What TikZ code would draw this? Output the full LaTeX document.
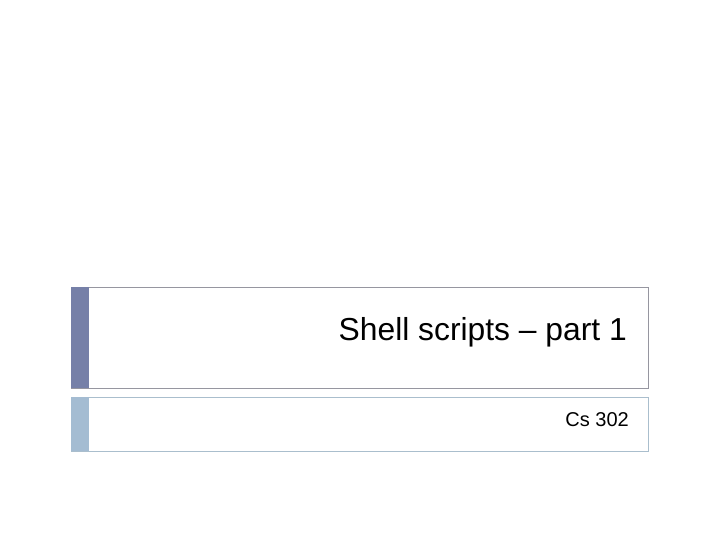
\documentclass[tikz,border=0pt]{standalone}
\usepackage{fontspec}
\setmainfont{Liberation Sans}
\definecolor{barA}{RGB}{118,128,168}
\definecolor{barB}{RGB}{164,188,210}
\definecolor{edgeA}{RGB}{150,150,160}
\definecolor{edgeB}{RGB}{170,190,205}
\begin{document}
\begin{tikzpicture}[x=1pt,y=-1pt,
  boxA/.style={draw=edgeA,line width=0.8pt},
  boxB/.style={draw=edgeB,line width=0.8pt}]
\useasboundingbox (0,0) rectangle (720,540);
\fill[white] (0,0) rectangle (720,540);
\draw[boxA] (71,287) rectangle (648,388);
\fill[barA] (71,287) rectangle (89,388);
\draw[boxB] (71,397) rectangle (648,451);
\fill[barB] (71,397) rectangle (89,451);
\node[anchor=base east,inner sep=0,font=\fontsize{31.8}{36}\selectfont] (title) at (627,340) {Shell scripts – part 1};
\node[anchor=base east,inner sep=0,font=\fontsize{20}{24}\selectfont] (sub) at (629,426) {Cs 302};
\end{tikzpicture}
\end{document}
